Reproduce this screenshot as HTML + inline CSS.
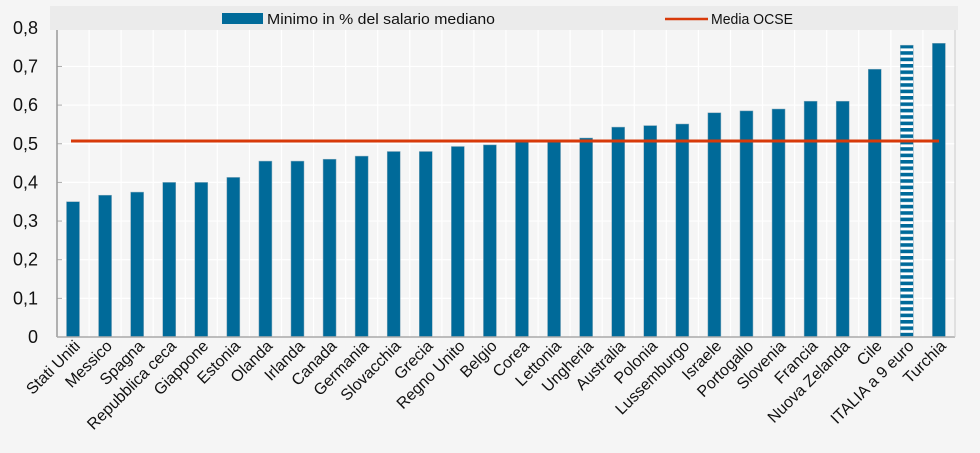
<!DOCTYPE html><html><head><meta charset="utf-8"><style>body{margin:0;background:#f5f5f5}svg{display:block}text{font-family:"Liberation Sans",sans-serif;fill:#111}.l{font-size:16px;text-anchor:end}.t{font-size:18px;text-anchor:end}.b{fill:#006a99;stroke:#8ab;stroke-width:0.5}</style></head><body>
<svg width="980" height="453" viewBox="0 0 980 453" xmlns="http://www.w3.org/2000/svg">
<defs><pattern id="st" width="13" height="6.4" patternUnits="userSpaceOnUse"><rect width="13" height="6.4" fill="#ffffff"/><rect width="13" height="3.6" fill="#006a99"/></pattern></defs>
<rect width="980" height="453" fill="#f5f5f5"/>
<rect x="50" y="6" width="908" height="24" fill="#ebebeb"/>
<g stroke="#fff" stroke-width="1.2">
<line x1="89.07" y1="30" x2="89.07" y2="337"/><line x1="121.14" y1="30" x2="121.14" y2="337"/><line x1="153.21" y1="30" x2="153.21" y2="337"/><line x1="185.28" y1="30" x2="185.28" y2="337"/><line x1="217.35" y1="30" x2="217.35" y2="337"/><line x1="249.42" y1="30" x2="249.42" y2="337"/><line x1="281.49" y1="30" x2="281.49" y2="337"/><line x1="313.56" y1="30" x2="313.56" y2="337"/><line x1="345.63" y1="30" x2="345.63" y2="337"/><line x1="377.7" y1="30" x2="377.7" y2="337"/><line x1="409.77" y1="30" x2="409.77" y2="337"/><line x1="441.84" y1="30" x2="441.84" y2="337"/><line x1="473.91" y1="30" x2="473.91" y2="337"/><line x1="505.98" y1="30" x2="505.98" y2="337"/><line x1="538.05" y1="30" x2="538.05" y2="337"/><line x1="570.12" y1="30" x2="570.12" y2="337"/><line x1="602.19" y1="30" x2="602.19" y2="337"/><line x1="634.26" y1="30" x2="634.26" y2="337"/><line x1="666.33" y1="30" x2="666.33" y2="337"/><line x1="698.4" y1="30" x2="698.4" y2="337"/><line x1="730.47" y1="30" x2="730.47" y2="337"/><line x1="762.54" y1="30" x2="762.54" y2="337"/><line x1="794.61" y1="30" x2="794.61" y2="337"/><line x1="826.68" y1="30" x2="826.68" y2="337"/><line x1="858.75" y1="30" x2="858.75" y2="337"/><line x1="890.82" y1="30" x2="890.82" y2="337"/><line x1="922.89" y1="30" x2="922.89" y2="337"/>
<line x1="57" y1="298.35" x2="955" y2="298.35"/><line x1="57" y1="259.7" x2="955" y2="259.7"/><line x1="57" y1="221.05" x2="955" y2="221.05"/><line x1="57" y1="182.4" x2="955" y2="182.4"/><line x1="57" y1="143.75" x2="955" y2="143.75"/><line x1="57" y1="105.1" x2="955" y2="105.1"/><line x1="57" y1="66.45" x2="955" y2="66.45"/>
</g>
<g stroke="#aaa"><line x1="57" y1="298.35" x2="62" y2="298.35"/><line x1="57" y1="259.7" x2="62" y2="259.7"/><line x1="57" y1="221.05" x2="62" y2="221.05"/><line x1="57" y1="182.4" x2="62" y2="182.4"/><line x1="57" y1="143.75" x2="62" y2="143.75"/><line x1="57" y1="105.1" x2="62" y2="105.1"/><line x1="57" y1="66.45" x2="62" y2="66.45"/></g>
<text class="t" x="38" y="343">0</text><text class="t" x="38" y="304.35">0,1</text><text class="t" x="38" y="265.7">0,2</text><text class="t" x="38" y="227.05">0,3</text><text class="t" x="38" y="188.4">0,4</text><text class="t" x="38" y="149.75">0,5</text><text class="t" x="38" y="111.1">0,6</text><text class="t" x="38" y="72.45">0,7</text><text class="t" x="38" y="33.8">0,8</text>
<rect class="b" x="66.5" y="201.7" width="13" height="135.3"/>
<rect class="b" x="98.57" y="195.2" width="13" height="141.8"/>
<rect class="b" x="130.64" y="192.1" width="13" height="144.9"/>
<rect class="b" x="162.71" y="182.4" width="13" height="154.6"/>
<rect class="b" x="194.78" y="182.4" width="13" height="154.6"/>
<rect class="b" x="226.85" y="177.4" width="13" height="159.6"/>
<rect class="b" x="258.92" y="161.1" width="13" height="175.9"/>
<rect class="b" x="290.99" y="161.1" width="13" height="175.9"/>
<rect class="b" x="323.06" y="159.2" width="13" height="177.8"/>
<rect class="b" x="355.13" y="156.1" width="13" height="180.9"/>
<rect class="b" x="387.2" y="151.5" width="13" height="185.5"/>
<rect class="b" x="419.27" y="151.5" width="13" height="185.5"/>
<rect class="b" x="451.34" y="146.5" width="13" height="190.5"/>
<rect class="b" x="483.41" y="144.9" width="13" height="192.1"/>
<rect class="b" x="515.48" y="141.8" width="13" height="195.2"/>
<rect class="b" x="547.55" y="141.8" width="13" height="195.2"/>
<rect class="b" x="579.62" y="138" width="13" height="199"/>
<rect class="b" x="611.69" y="127.1" width="13" height="209.9"/>
<rect class="b" x="643.76" y="125.6" width="13" height="211.4"/>
<rect class="b" x="675.83" y="124" width="13" height="213"/>
<rect class="b" x="707.9" y="112.8" width="13" height="224.2"/>
<rect class="b" x="739.97" y="110.9" width="13" height="226.1"/>
<rect class="b" x="772.04" y="109" width="13" height="228"/>
<rect class="b" x="804.11" y="101.2" width="13" height="235.8"/>
<rect class="b" x="836.18" y="101.2" width="13" height="235.8"/>
<rect class="b" x="868.25" y="69.2" width="13" height="267.8"/>
<rect x="900.32" y="45.2" width="13" height="291.8" fill="url(#st)" stroke="#8ab" stroke-width="0.5"/>
<rect class="b" x="932.39" y="43.3" width="13" height="293.7"/>
<line x1="57" y1="30" x2="57" y2="337" stroke="#999" stroke-width="1.5"/>
<line x1="57" y1="337" x2="955" y2="337" stroke="#aaa" stroke-width="1.5"/>
<line x1="955" y1="30" x2="955" y2="337" stroke="#ccc" stroke-width="1"/>
<line x1="71" y1="141" x2="939" y2="141" stroke="#d83a0a" stroke-width="3"/>
<text class="l" transform="translate(81,347) rotate(-45)">Stati Uniti</text>
<text class="l" transform="translate(113.07,347) rotate(-45)">Messico</text>
<text class="l" transform="translate(145.14,347) rotate(-45)">Spagna</text>
<text class="l" transform="translate(177.21,347) rotate(-45)">Repubblica ceca</text>
<text class="l" transform="translate(209.28,347) rotate(-45)">Giappone</text>
<text class="l" transform="translate(241.35,347) rotate(-45)">Estonia</text>
<text class="l" transform="translate(273.42,347) rotate(-45)">Olanda</text>
<text class="l" transform="translate(305.49,347) rotate(-45)">Irlanda</text>
<text class="l" transform="translate(337.56,347) rotate(-45)">Canada</text>
<text class="l" transform="translate(369.63,347) rotate(-45)">Germania</text>
<text class="l" transform="translate(401.7,347) rotate(-45)">Slovacchia</text>
<text class="l" transform="translate(433.77,347) rotate(-45)">Grecia</text>
<text class="l" transform="translate(465.84,347) rotate(-45)">Regno Unito</text>
<text class="l" transform="translate(497.91,347) rotate(-45)">Belgio</text>
<text class="l" transform="translate(529.98,347) rotate(-45)">Corea</text>
<text class="l" transform="translate(562.05,347) rotate(-45)">Lettonia</text>
<text class="l" transform="translate(594.12,347) rotate(-45)">Ungheria</text>
<text class="l" transform="translate(626.19,347) rotate(-45)">Australia</text>
<text class="l" transform="translate(658.26,347) rotate(-45)">Polonia</text>
<text class="l" transform="translate(690.33,347) rotate(-45)">Lussemburgo</text>
<text class="l" transform="translate(722.4,347) rotate(-45)">Israele</text>
<text class="l" transform="translate(754.47,347) rotate(-45)">Portogallo</text>
<text class="l" transform="translate(786.54,347) rotate(-45)">Slovenia</text>
<text class="l" transform="translate(818.61,347) rotate(-45)">Francia</text>
<text class="l" transform="translate(850.68,347) rotate(-45)">Nuova Zelanda</text>
<text class="l" transform="translate(882.75,347) rotate(-45)">Cile</text>
<text class="l" transform="translate(914.82,347) rotate(-45)">ITALIA a 9 euro</text>
<text class="l" transform="translate(946.89,347) rotate(-45)">Turchia</text>
<rect x="222" y="13" width="41" height="11" fill="#006a99"/>
<text x="267" y="24" font-size="15" textLength="228" lengthAdjust="spacingAndGlyphs">Minimo in % del salario mediano</text>
<line x1="665" y1="19" x2="708" y2="19" stroke="#d83a0a" stroke-width="2.5"/>
<text x="711" y="24" font-size="15" textLength="82" lengthAdjust="spacingAndGlyphs">Media OCSE</text>
</svg></body></html>
